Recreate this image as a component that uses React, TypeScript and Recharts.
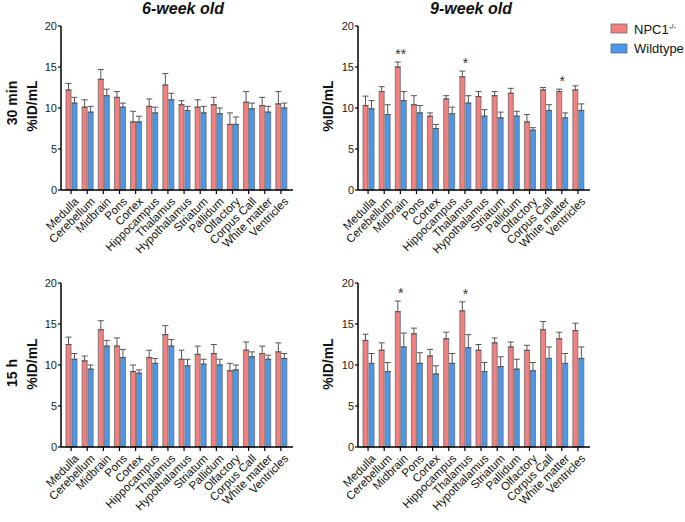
import React from "react";
import { BarChart, Bar, XAxis, YAxis, ErrorBar, LabelList } from "recharts";

const categories = [
  "Medulla",
  "Cerebellum",
  "Midbrain",
  "Pons",
  "Cortex",
  "Hippocampus",
  "Thalamus",
  "Hypothalamus",
  "Striatum",
  "Pallidum",
  "Olfactory",
  "Corpus Call",
  "White matter",
  "Ventricles",
];
const yTicks = [0, 5, 10, 15, 20];

// 6-week old, 30 min
const npc6w30 = [12.2, 10.1, 13.5, 11.3, 8.3, 10.2, 12.8, 10.4, 10.1, 10.4, 8.0, 10.7, 10.3, 10.5];
const npc6w30Err = [0.8, 0.9, 1.2, 0.7, 1.3, 0.9, 1.4, 0.5, 0.9, 0.9, 1.4, 1.3, 1.0, 1.5];
const wt6w30 = [10.6, 9.5, 11.5, 10.1, 8.3, 9.4, 11.0, 9.7, 9.4, 9.3, 8.0, 9.9, 9.5, 10.0];
const wt6w30Err = [0.7, 0.7, 0.8, 0.5, 0.7, 0.7, 0.8, 0.5, 0.8, 0.7, 0.9, 0.7, 0.7, 0.6];
const stars6w30 = ["", "", "", "", "", "", "", "", "", "", "", "", "", ""];

// 9-week old, 30 min
const npc9w30 = [10.3, 12.0, 15.0, 10.4, 9.0, 11.1, 13.8, 11.4, 11.5, 11.8, 8.3, 12.2, 12.0, 12.2];
const npc9w30Err = [1.15, 0.6, 0.6, 1.1, 0.4, 0.4, 0.7, 0.6, 0.5, 0.6, 0.9, 0.3, 0.3, 0.5];
const wt9w30 = [9.9, 9.2, 10.9, 9.4, 7.5, 9.3, 10.6, 9.0, 8.8, 9.0, 7.3, 9.7, 8.8, 9.7];
const wt9w30Err = [1.0, 1.2, 1.1, 0.9, 0.5, 0.8, 0.9, 0.8, 0.7, 0.6, 0.3, 0.7, 0.6, 0.8];
const stars9w30 = ["", "", "**", "", "", "", "*", "", "", "", "", "", "*", ""];

// 6-week old, 15 h
const npc6w15 = [12.5, 10.5, 14.3, 12.3, 9.2, 10.9, 13.7, 10.7, 11.3, 11.4, 9.3, 11.8, 11.4, 11.6];
const npc6w15Err = [0.9, 0.6, 1.1, 1.0, 0.8, 0.9, 1.1, 1.1, 1.0, 1.1, 0.9, 1.0, 0.9, 1.1];
const wt6w15 = [10.7, 9.5, 12.3, 10.9, 9.0, 10.2, 12.3, 9.9, 10.1, 10.0, 9.4, 11.0, 10.7, 10.8];
const wt6w15Err = [0.7, 0.5, 0.7, 1.0, 0.4, 0.6, 0.8, 0.8, 0.6, 0.7, 0.6, 0.6, 0.5, 0.6];
const stars6w15 = ["", "", "", "", "", "", "", "", "", "", "", "", "", ""];

// 9-week old, 15 h
const npc9w15 = [13.0, 11.8, 16.5, 13.8, 11.1, 13.2, 16.6, 11.8, 12.7, 12.2, 11.8, 14.3, 13.2, 14.2];
const npc9w15Err = [0.75, 0.9, 1.3, 0.7, 0.8, 0.8, 1.1, 0.7, 0.6, 0.6, 0.6, 1.0, 0.8, 0.9];
const wt9w15 = [10.2, 9.2, 12.2, 10.2, 8.9, 10.2, 12.1, 9.2, 9.8, 9.5, 9.3, 10.8, 10.2, 10.8];
const wt9w15Err = [1.2, 1.1, 1.7, 1.3, 1.0, 1.2, 1.6, 1.1, 1.2, 1.2, 1.0, 1.4, 1.2, 1.4];
const stars9w15 = ["", "", "*", "", "", "", "*", "", "", "", "", "", "", ""];

const RED = "#f3807f";
const BLUE = "#4a97ec";
const OUTLINE = "#6b6b6b";
const FONT = "'Liberation Sans', Arial, sans-serif";

const PLOT_H = 164;
const PX_PER_UNIT = PLOT_H / 20;

const XTick = (props: any) => {
  const { x, y, payload } = props;
  return (
    <g transform={`translate(${x + 4},${y + 2})`}>
      <text
        x={0}
        y={0}
        dy={6}
        textAnchor="end"
        transform="rotate(-45)"
        fontSize={11.5}
        fontFamily={FONT}
        fill="#111"
      >
        {payload.value}
      </text>
    </g>
  );
};

type PanelProps = {
  left: number;
  top: number;
  npc: number[];
  npcErr: number[];
  wt: number[];
  wtErr: number[];
  stars: string[];
};

const Panel = ({ left, top, npc, npcErr, wt, wtErr, stars }: PanelProps) => {
  const data = categories.map((name, i) => ({
    name,
    npc: npc[i],
    npcErr: [0, npcErr[i]],
    wt: wt[i],
    wtErr: [0, wtErr[i]],
  }));

  const renderStar = (p: any) => {
    const { x, y, width, index } = p;
    const s = stars[index];
    if (!s) return null;
    const errTop = y - npcErr[index] * PX_PER_UNIT;
    return (
      <text
        x={x + width + 0.5}
        y={errTop - 3}
        textAnchor="middle"
        fontSize={14}
        fontFamily={FONT}
        fill="#333"
      >
        {s}
      </text>
    );
  };

  return (
    <div style={{ position: "absolute", left, top }}>
      <BarChart
        width={300}
        height={280}
        data={data}
        margin={{ top: 26, right: 7, left: 0, bottom: 0 }}
        barSize={5}
        barGap={1}
      >
        <XAxis
          dataKey="name"
          interval={0}
          height={90}
          tick={<XTick />}
          tickSize={4}
          padding={{ left: 2, right: 4 }}
          axisLine={{ stroke: "#000", strokeWidth: 1.5 }}
          tickLine={{ stroke: "#000", strokeWidth: 1.2 }}
        />
        <YAxis
          domain={[0, 20]}
          ticks={yTicks}
          width={61}
          tickSize={3}
          tickMargin={1}
          axisLine={{ stroke: "#000", strokeWidth: 1.5 }}
          tickLine={{ stroke: "#000", strokeWidth: 1.2 }}
          tick={{ fontSize: 11, fontFamily: FONT, fill: "#222" }}
        />
        <Bar dataKey="npc" fill={RED} stroke={OUTLINE} strokeWidth={0.8} isAnimationActive={false}>
          <ErrorBar dataKey="npcErr" direction="y" width={3} stroke="#555" strokeWidth={1} />
          <LabelList dataKey="npc" content={renderStar} />
        </Bar>
        <Bar dataKey="wt" fill={BLUE} stroke={OUTLINE} strokeWidth={0.8} isAnimationActive={false}>
          <ErrorBar dataKey="wtErr" direction="y" width={3} stroke="#555" strokeWidth={1} />
        </Bar>
      </BarChart>
    </div>
  );
};

const Labels = () => (
  <svg
    width={685}
    height={522}
    style={{ position: "absolute", left: 0, top: 0, pointerEvents: "none" }}
    fontFamily={FONT}
  >
    <text x={183} y={14} textAnchor="middle" fontSize={16} fontWeight="bold" fontStyle="italic" fill="#111">
      6-week old
    </text>
    <text x={471} y={14} textAnchor="middle" fontSize={16} fontWeight="bold" fontStyle="italic" fill="#111">
      9-week old
    </text>

    <text transform="translate(17,103) rotate(-90)" textAnchor="middle" fontSize={14} fontWeight="bold" fill="#111">
      30 min
    </text>
    <text transform="translate(17,373) rotate(-90)" textAnchor="middle" fontSize={14} fontWeight="bold" fill="#111">
      15 h
    </text>

    <text transform="translate(37,106) rotate(-90)" textAnchor="middle" fontSize={14} fontWeight="bold" fill="#111">
      %ID/mL
    </text>
    <text transform="translate(333,106) rotate(-90)" textAnchor="middle" fontSize={14} fontWeight="bold" fill="#111">
      %ID/mL
    </text>
    <text transform="translate(37,364) rotate(-90)" textAnchor="middle" fontSize={14} fontWeight="bold" fill="#111">
      %ID/mL
    </text>
    <text transform="translate(333,364) rotate(-90)" textAnchor="middle" fontSize={14} fontWeight="bold" fill="#111">
      %ID/mL
    </text>

    <rect x={611} y={24} width={16} height={9} fill={RED} stroke={OUTLINE} strokeWidth={0.8} />
    <text x={634} y={34} fontSize={13} fill="#111">
      NPC1
      <tspan dy={-5} fontSize={8}>
        -/-
      </tspan>
    </text>
    <rect x={611} y={44} width={16} height={9} fill={BLUE} stroke={OUTLINE} strokeWidth={0.8} />
    <text x={634} y={53} fontSize={13} fill="#111">
      Wildtype
    </text>
  </svg>
);

export default function App() {
  return (
    <div style={{ position: "absolute", left: 0, top: 0, width: 685, height: 522, background: "#fff" }}>
      <Labels />
      <Panel left={0} top={0} npc={npc6w30} npcErr={npc6w30Err} wt={wt6w30} wtErr={wt6w30Err} stars={stars6w30} />
      <Panel left={297} top={0} npc={npc9w30} npcErr={npc9w30Err} wt={wt9w30} wtErr={wt9w30Err} stars={stars9w30} />
      <Panel left={0} top={257} npc={npc6w15} npcErr={npc6w15Err} wt={wt6w15} wtErr={wt6w15Err} stars={stars6w15} />
      <Panel left={297} top={257} npc={npc9w15} npcErr={npc9w15Err} wt={wt9w15} wtErr={wt9w15Err} stars={stars9w15} />
    </div>
  );
}
